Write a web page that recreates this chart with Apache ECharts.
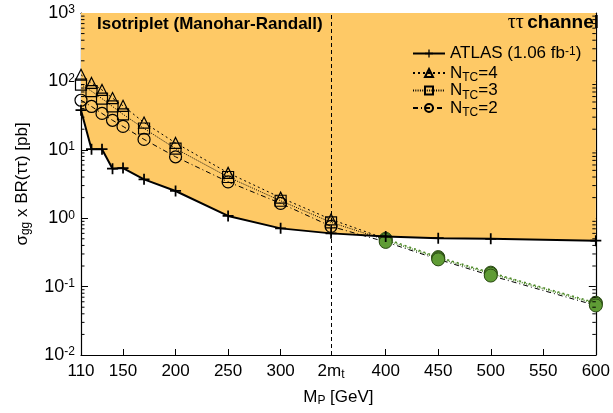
<!DOCTYPE html>
<html>
<head>
<meta charset="utf-8">
<script src="https://cdn.jsdelivr.net/npm/echarts@6/dist/echarts.min.js"></script>
<style>html,body{margin:0;padding:0;background:#fff}#c{width:613px;height:413px}</style>
</head>
<body>
<div id="c"></div>
<script>
// ---- data ----
const massValues = [110, 120, 130, 140, 150, 170, 200, 250, 300, 348, 400, 450, 500, 600];
const atlasLimit = [38, 10.2, 10.2, 5.3, 5.4, 3.7, 2.5, 1.08, 0.71, 0.60, 0.54, 0.51, 0.50, 0.47];
const ntc4 = [125, 95, 75, 57, 44, 25, 12.6, 4.6, 2.0, 0.96, 0.50, 0.27, 0.16, 0.058];
const ntc3 = [90, 72, 56, 43, 33, 20.5, 10.4, 4.0, 1.8, 0.87, 0.48, 0.26, 0.155, 0.056];
const ntc2 = [53, 43, 34, 27, 22, 14.2, 7.9, 3.4, 1.65, 0.76, 0.45, 0.25, 0.145, 0.053];
const greenFrom = 10; // index of first point drawn green (M_P = 400)
const xTickValues = [110, 150, 200, 250, 300, 348, 400, 450, 500, 550, 600];
const xTickLabels = ['110', '150', '200', '250', '300', '2m{sub|t}', '400', '450', '500', '550', '600'];
const xMajorTicks = [150, 200, 250, 300, 400, 450, 500, 550];
const yTickValues = [0.01, 0.1, 1, 10, 100, 1000];
const yTickLabels = ['10{sup|-2}', '10{sup|-1}', '10{sup|0}', '10{sup|1}', '10{sup|2}', '10{sup|3}'];
const twoMt = 348;

const FONT = 'Liberation Sans';
const FS = 17;
const chart = echarts.init(document.getElementById('c'), null, {renderer: 'canvas'});

const minorTicks = [];
for (let e = -2; e < 3; e++) for (let k = 2; k <= 9; k++) minorTicks.push(+(k * Math.pow(10, e)).toPrecision(3));

function pairs(arr, from, to) {
  const out = [];
  for (let i = from; i <= to; i++) out.push([massValues[i], arr[i]]);
  return out;
}
function blackPart(arr) {
  const d = pairs(arr, 0, greenFrom);
  d[d.length - 1] = {value: d[d.length - 1], symbol: 'none'};
  return d;
}
const plusPath = 'path://M4.2,0h1.6v4.2h4.2v1.6h-4.2v4.2h-1.6v-4.2h-4.2v-1.6h4.2z';
const GREEN = '#5f9c35', GREEN_B = '#2a4a14', GREEN_L = '#4f8a2a';

const subStyle = {fontSize: 12, fontFamily: FONT, verticalAlign: 'top', lineHeight: 12, padding: [7, 0, 0, 0], color: '#000'};
const supStyle = {fontSize: 12, fontFamily: FONT, verticalAlign: 'top', lineHeight: 12, padding: [0, 0, 9, 0], color: '#000'};

const legendNames = {
  'ATLAS': 'ATLAS (1.06 fb{sup|-1})',
  'N4': 'N{sub|TC}=4',
  'N3': 'N{sub|TC}=3',
  'N2': 'N{sub|TC}=2'
};

const lineTypes = {N4: [2, 3], N3: [1, 1.3], N2: [5, 3, 1, 3]};
const symbols = {N4: 'triangle', N3: 'rect', N2: 'circle'};
const symSize = {N4: 11, N3: 11, N2: 12};
const vals = {N4: ntc4, N3: ntc3, N2: ntc2};

const series = [];
// orange excluded region above the ATLAS limit
series.push({
  type: 'line', data: pairs(atlasLimit, 0, massValues.length - 1), symbol: 'none', silent: true,
  lineStyle: {width: 0}, areaStyle: {color: '#fec966', opacity: 1, origin: 'end'}, z: 1,
  markLine: {
    symbol: 'none', silent: true, label: {show: false},
    lineStyle: {type: [4, 3], color: '#000', width: 1},
    data: [{xAxis: twoMt}]
  }
});
['N4', 'N3', 'N2'].forEach(k => {
  series.push({
    name: k, type: 'line', data: blackPart(vals[k]), symbol: symbols[k], symbolSize: symSize[k],
    showAllSymbol: true,
    lineStyle: {color: '#000', width: 1, type: lineTypes[k]},
    itemStyle: {color: 'rgba(0,0,0,0)', borderColor: '#000', borderWidth: 1.2},
    z: 3
  });
  series.push({
    name: k + 'g', type: 'line', data: pairs(vals[k], greenFrom, massValues.length - 1),
    symbol: 'circle', symbolSize: 13,
    lineStyle: {color: k === 'N2' ? '#000' : GREEN_L, width: k === 'N2' ? 1 : 1.5, type: lineTypes[k]},
    itemStyle: {color: GREEN, borderColor: GREEN_B, borderWidth: 1},
    z: 3
  });
});
series.push({
  name: 'ATLAS', type: 'line', data: pairs(atlasLimit, 0, massValues.length - 1),
  symbol: plusPath, symbolSize: 11, showAllSymbol: true,
  lineStyle: {color: '#000', width: 2},
  itemStyle: {color: '#000'},
  z: 4
});
// minor ticks of the log axis (left and right frame)
series.push({
  type: 'custom', silent: true, z: 6, clip: false,
  data: minorTicks.map(v => [110, v]),
  encode: {x: 0, y: 1},
  renderItem: function (params, api) {
    const v = api.value(1);
    const p = api.coord([110, v]);
    const q = api.coord([600, v]);
    return {type: 'group', children: [
      {type: 'line', shape: {x1: p[0], y1: p[1], x2: p[0] + 3.5, y2: p[1]}, style: {stroke: '#000', lineWidth: 1}},
      {type: 'line', shape: {x1: q[0] - 3.5, y1: q[1], x2: q[0], y2: q[1]}, style: {stroke: '#000', lineWidth: 1}}
    ]};
  }
});

const axisLineStyle = {show: true, lineStyle: {color: '#000', width: 1.2}};

chart.setOption({
  animation: false,
  backgroundColor: '#fff',
  grid: {left: 81, right: 9, top: 13, bottom: 58, containLabel: false},
  xAxis: [{
    type: 'value', min: 110, max: 600, position: 'bottom',
    axisLine: axisLineStyle,
    axisTick: {show: true, inside: true, length: 6, customValues: xMajorTicks, lineStyle: {color: '#000'}},
    axisLabel: {
      show: true, customValues: xTickValues, margin: 7, color: '#000', fontSize: FS, fontFamily: FONT,
      lineHeight: 18,
      formatter: v => xTickLabels[xTickValues.indexOf(v)] || '',
      rich: {sub: subStyle}
    },
    splitLine: {show: false},
    name: 'M{sub|P} [GeV]', nameLocation: 'middle', nameGap: 33,
    nameTextStyle: {color: '#000', fontSize: FS, fontFamily: FONT, lineHeight: 18, rich: {sub: subStyle}}
  }, {
    type: 'value', min: 110, max: 600, position: 'top',
    axisLine: axisLineStyle,
    axisTick: {show: true, inside: true, length: 6, customValues: xMajorTicks, lineStyle: {color: '#000'}},
    axisLabel: {show: false}, splitLine: {show: false}
  }],
  yAxis: [{
    type: 'log', logBase: 10, min: 0.01, max: 1000, position: 'left',
    axisLine: axisLineStyle,
    axisTick: {show: true, inside: true, length: 7, customValues: yTickValues, lineStyle: {color: '#000'}},
    axisLabel: {
      show: true, customValues: yTickValues, margin: 6, color: '#000', fontSize: FS + 1, fontFamily: FONT,
      lineHeight: 18,
      formatter: v => yTickLabels[yTickValues.findIndex(t => Math.abs(t - v) / t < 1e-6)] || '',
      rich: {sup: supStyle}
    },
    splitLine: {show: false},
    name: 'σ{sub|gg} x BR(ττ) [pb]', nameLocation: 'middle', nameGap: 50, nameRotate: 90,
    nameTextStyle: {color: '#000', fontSize: FS, fontFamily: FONT, lineHeight: 18, rich: {sub: subStyle}}
  }, {
    type: 'log', logBase: 10, min: 0.01, max: 1000, position: 'right',
    axisLine: axisLineStyle,
    axisTick: {show: true, inside: true, length: 7, customValues: yTickValues, lineStyle: {color: '#000'}},
    axisLabel: {show: false}, splitLine: {show: false}
  }],
  legend: {
    data: ['ATLAS', 'N4', 'N3', 'N2'],
    orient: 'vertical', left: 407, top: 40, itemWidth: 32, itemHeight: 10, itemGap: -2,
    formatter: n => legendNames[n],
    textStyle: {color: '#000', fontSize: FS, fontFamily: FONT, lineHeight: 16, rich: {sub: subStyle, sup: supStyle}},
    selectedMode: false
  },
  graphic: [
    {type: 'text', left: 97, top: 16, z: 20, style: {text: 'Isotriplet (Manohar-Randall)', fill: '#000',
      font: 'bold 17px "Liberation Sans"'}},
    {type: 'text', right: 14, top: 13, z: 20, style: {
      text: '{t|ττ} {c|channel}', fill: '#000',
      rich: {t: {fontFamily: 'Liberation Serif', fontSize: 20, fill: '#000'},
             c: {fontFamily: FONT, fontWeight: 'bold', fontSize: 19, fill: '#000'}}
    }}
  ],
  series: series
});
</script>
</body>
</html>
